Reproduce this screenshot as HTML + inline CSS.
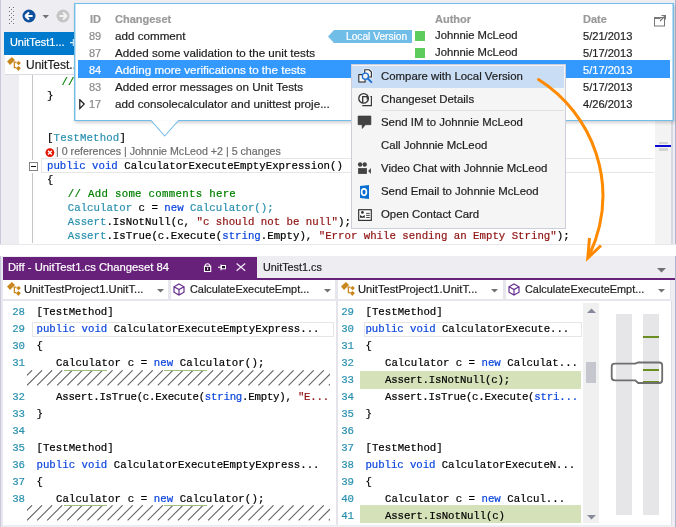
<!DOCTYPE html>
<html><head><meta charset="utf-8">
<style>
*{margin:0;padding:0;box-sizing:border-box}
html,body{width:676px;height:527px;overflow:hidden;background:#eeeef2;font-family:"Liberation Sans",sans-serif;position:relative}
.a{position:absolute}
.ui{-webkit-text-stroke:0.2px currentColor;font-family:"Liberation Sans",sans-serif;font-size:11.65px;white-space:nowrap;color:#1e1e1e}
.mono{-webkit-text-stroke:0.2px currentColor;font-family:"Liberation Mono",monospace;font-size:10.73px;white-space:pre;color:#000;margin-top:2px}
.k{color:#0a45dc}.t{color:#2b91af}.s{color:#8f1212}.c{color:#008000}
.ln{color:#2b91af;text-align:right;width:20px}
.hatch{background:repeating-linear-gradient(135deg,#fff 0,#fff 5px,#7a7a7a 5px,#7a7a7a 6.2px,#fff 6.2px,#fff 7.07px)}
</style></head><body>
<div id="root" style="position:absolute;left:0;top:0;width:676px;height:527px;will-change:transform">

<!-- ============ TOP SECTION ============ -->
<!-- left stripe -->
<div class="a" style="left:0;top:0;width:1px;height:246px;background:#c8cadc"></div>
<!-- toolbar grip -->
<svg class="a" style="left:8px;top:6px" width="8" height="20" viewBox="0 0 8 20"><g fill="#fbfbfc"><rect x="2" y="2" width="1" height="1"/><rect x="6" y="2" width="1" height="1"/><rect x="2" y="6" width="1" height="1"/><rect x="6" y="6" width="1" height="1"/><rect x="2" y="10" width="1" height="1"/><rect x="6" y="10" width="1" height="1"/><rect x="2" y="14" width="1" height="1"/><rect x="6" y="14" width="1" height="1"/><rect x="2" y="18" width="1" height="1"/><rect x="6" y="18" width="1" height="1"/><rect x="4" y="4" width="1" height="1"/><rect x="4" y="8" width="1" height="1"/><rect x="4" y="12" width="1" height="1"/><rect x="4" y="16" width="1" height="1"/></g><g fill="#6e6e72"><rect x="1" y="1" width="1" height="1"/><rect x="5" y="1" width="1" height="1"/><rect x="1" y="5" width="1" height="1"/><rect x="5" y="5" width="1" height="1"/><rect x="1" y="9" width="1" height="1"/><rect x="5" y="9" width="1" height="1"/><rect x="1" y="13" width="1" height="1"/><rect x="5" y="13" width="1" height="1"/><rect x="1" y="17" width="1" height="1"/><rect x="5" y="17" width="1" height="1"/><rect x="3" y="3" width="1" height="1"/><rect x="3" y="7" width="1" height="1"/><rect x="3" y="11" width="1" height="1"/><rect x="3" y="15" width="1" height="1"/></g></svg>
<!-- back button -->
<svg class="a" style="left:22px;top:9px" width="14" height="14" viewBox="0 0 14 14"><circle cx="7" cy="7" r="6.5" fill="#0f509e"/><path d="M3.2 7 L7 3.4 M3.2 7 L7 10.6 M3.4 7 H10.6" stroke="#fff" stroke-width="2" fill="none"/></svg>
<svg class="a" style="left:42px;top:15px" width="8" height="4" viewBox="0 0 8 4"><path d="M0.5 0 H7 L3.75 3.5Z" fill="#717171"/></svg>
<svg class="a" style="left:56px;top:9px" width="14" height="14" viewBox="0 0 14 14"><circle cx="7" cy="7" r="6.5" fill="#c4c4c4"/><path d="M10.8 7 L7 3.4 M10.8 7 L7 10.6 M10.6 7 H3.4" stroke="#f2f2f2" stroke-width="2" fill="none"/></svg>

<!-- blue tab -->
<div class="a" style="left:4px;top:32px;width:80px;height:23px;background:#007acc"></div>
<div class="a ui" style="left:10px;top:36px;font-size:10.9px;color:#fff">UnitTest1...</div>
<svg class="a" style="left:69px;top:38px" width="6" height="9" viewBox="0 0 6 9"><path d="M1 4.6 H4.3 M4.3 1 V8" stroke="#e8f2fa" stroke-width="1.1" fill="none"/></svg>
<!-- nav bar -->
<div class="a" style="left:5px;top:55px;width:80px;height:20px;background:#fff;border-bottom:1px solid #dadae2"></div>
<svg class="a" style="left:4px;top:54px" width="20" height="20" viewBox="0 0 20 20"><g fill="#c9861c"><path d="M3 7.5 L7.9 3 L11 6.1 L6 11Z"/><path d="M12.3 9 L14.6 6.9 L16.9 9 L14.6 11.2Z"/><path d="M12.1 14.2 L14.4 11.9 L16.9 14 L14.3 16.9Z"/></g><path d="M9.5 8.1 H12.5 M10.4 8 V13.6 H12.5" stroke="#c9861c" stroke-width="1.3" fill="none"/></svg>
<div class="a ui" style="left:26px;top:57.5px;font-size:12px">UnitTest...</div>

<!-- editor area -->
<div class="a" style="left:1px;top:75px;width:18px;height:170px;background:#eeeef2"></div>
<div class="a" style="left:19px;top:75px;width:636px;height:169px;background:#fff"></div>
<div class="a" style="left:32px;top:75px;width:1px;height:168px;background:#c6c6c6"></div>
<!-- collapse box -->
<div class="a" style="left:30px;top:160px;width:6px;height:13px;background:#fff"></div>
<div class="a" style="left:29px;top:162px;width:9px;height:9px;border:1px solid #858585;background:#fff"></div>
<div class="a" style="left:31px;top:166px;width:5px;height:1.2px;background:#111"></div>
<!-- current line box -->
<div class="a" style="left:41px;top:158px;width:613px;height:15px;border:1px solid #e6e6e6;border-right:none"></div>
<!-- scrollbar -->
<div class="a" style="left:655px;top:75px;width:16px;height:170px;background:#f3f3f3"></div>
<div class="a" style="left:671px;top:75px;width:1.5px;height:170px;background:#d8d8e4"></div>
<div class="a" style="left:672.5px;top:0px;width:2.5px;height:245px;background:#eeeef2"></div>
<div class="a" style="left:675px;top:0px;width:1px;height:245px;background:#b0b4cc"></div>
<div class="a" style="left:658.5px;top:142px;width:9.5px;height:2.2px;background:#d2d2d2"></div>
<div class="a" style="left:658.5px;top:148px;width:9.5px;height:2.7px;background:#d2d2d2"></div>
<div class="a" style="left:655px;top:145px;width:16px;height:2.2px;background:#0a0ad0"></div>
<!-- bottom lines -->
<div class="a" style="left:0;top:244px;width:676px;height:1px;background:#e8e8ec"></div>
<div class="a" style="left:0;top:245px;width:676px;height:12px;background:#fff"></div>

<!-- code lines top -->
<div class="a mono c" style="left:61.5px;top:74px">//</div>
<div class="a mono" style="left:47px;top:88px">}</div>
<div class="a mono" style="left:47px;top:130px;letter-spacing:0.15px">[<span class="t">TestMethod</span>]</div>
<svg class="a" style="left:45px;top:148px" width="10" height="10" viewBox="0 0 10 10"><circle cx="4.9" cy="4.6" r="4.4" fill="#e51400"/><path d="M3 2.7 L6.8 6.5 M6.8 2.7 L3 6.5" stroke="#fff" stroke-width="1.4"/></svg>
<div class="a ui" style="left:56px;top:145px;font-size:10.67px;color:#6e6e6e">| 0 references | Johnnie McLeod +2 | 5 changes</div>
<div class="a mono" style="left:47px;top:158px"><span class="k">public</span> <span class="k">void</span> CalculatorExecuteEmptyExpression()</div>
<div class="a mono" style="left:47px;top:172px">{</div>
<div class="a mono c" style="left:67.8px;top:186px;letter-spacing:0.3px">// Add some comments here</div>
<div class="a mono" style="left:67.8px;top:200px"><span class="t">Calculator</span> c = <span class="k">new</span> <span class="t">Calculator();</span></div>
<div class="a mono" style="left:67.8px;top:214px"><span class="t">Assert</span>.IsNotNull(c, <span class="s">"c should not be null"</span>);</div>
<div class="a mono" style="left:67.8px;top:228px"><span class="t">Assert</span>.IsTrue(c.Execute(<span class="k">string</span>.Empty), <span class="s">"Error while sending an Empty String"</span>);</div>

<!-- ============ POPUP ============ -->
<div class="a" style="left:74px;top:3px;width:600px;height:118px;background:#fff;border:1px solid #74bde9;box-shadow:inset 1px 0 0 #c0e2f6,inset -1px 0 0 #b8def4,1px 2px 3px rgba(0,0,0,0.18)"></div>
<svg class="a" style="left:148px;top:119px" width="34" height="19" viewBox="0 0 34 19"><path d="M0 1.5 H3 L16.7 17 L30.5 1.5 H33" fill="#fff" stroke="#74bde9" stroke-width="1.1"/><rect x="3.8" y="0" width="26" height="1.9" fill="#fff"/></svg>
<div class="a ui" style="left:90px;top:13px;color:#9a9a9a;font-weight:bold;font-size:11px">ID</div>
<div class="a ui" style="left:115px;top:13px;color:#9a9a9a;font-weight:bold;font-size:11px">Changeset</div>
<div class="a ui" style="left:435px;top:13px;color:#9a9a9a;font-weight:bold;font-size:11px">Author</div>
<div class="a ui" style="left:583px;top:13px;color:#9a9a9a;font-weight:bold;font-size:11px">Date</div>
<svg class="a" style="left:653px;top:14px" width="13" height="13" viewBox="0 0 13 13"><rect x="1.5" y="3.5" width="10" height="8.5" fill="none" stroke="#777" stroke-width="1"/><rect x="1.5" y="3" width="6" height="2" fill="#777"/><path d="M7 7 L12 2 M8.5 1.5 H12.5 V5.5" stroke="#777" stroke-width="1.2" fill="none"/></svg>

<!-- selected row -->
<div class="a" style="left:78px;top:60px;width:592px;height:18px;background:#3399ff"></div>

<!-- rows -->
<div class="a ui" style="left:89px;top:30px;color:#8a8a8a;font-size:11px">89</div>
<div class="a ui" style="left:115px;top:29px">add comment</div>
<div class="a ui" style="left:89px;top:47px;color:#8a8a8a;font-size:11px">87</div>
<div class="a ui" style="left:115px;top:46px">Added some validation to the unit tests</div>
<div class="a ui" style="left:89px;top:64px;color:#fff;font-size:11px">84</div>
<div class="a ui" style="left:115px;top:63px;color:#fff">Adding more verifications to the tests</div>
<div class="a ui" style="left:89px;top:81px;color:#8a8a8a;font-size:11px">83</div>
<div class="a ui" style="left:115px;top:80px">Added error messages on Unit Tests</div>
<svg class="a" style="left:79px;top:98.5px" width="7" height="11" viewBox="0 0 7 11"><path d="M0.8 0.8 L5.2 5.1 L0.8 9.5Z" fill="none" stroke="#1a1a1a" stroke-width="1.2"/></svg>
<div class="a ui" style="left:89px;top:98px;color:#8a8a8a;font-size:11px">17</div>
<div class="a ui" style="left:115px;top:97px">add consolecalculator and unittest proje...</div>

<!-- local version badge -->
<svg class="a" style="left:328px;top:30px" width="84" height="13" viewBox="0 0 84 13"><path d="M0 6.5 L6 0 H84 V13 H6Z" fill="#70bde8"/></svg>
<div class="a ui" style="left:346px;top:31px;font-size:10.2px;color:#fff">Local Version</div>
<div class="a" style="left:415px;top:31px;width:10px;height:10px;background:#5ccc5c"></div>
<div class="a" style="left:415px;top:48px;width:10px;height:10px;background:#5ccc5c"></div>

<div class="a ui" style="left:435px;top:29px;font-size:11.25px">Johnnie McLeod</div>
<div class="a ui" style="left:435px;top:46px;font-size:11.25px">Johnnie McLeod</div>
<div class="a ui" style="left:583px;top:30px;font-size:11.1px">5/21/2013</div>
<div class="a ui" style="left:583px;top:47px;font-size:11.1px">5/17/2013</div>
<div class="a ui" style="left:583px;top:64px;color:#fff;font-size:11.1px">5/17/2013</div>
<div class="a ui" style="left:583px;top:81px;font-size:11.1px">5/17/2013</div>
<div class="a ui" style="left:583px;top:98px;font-size:11.1px">4/26/2013</div>

<!-- ============ CONTEXT MENU ============ -->
<div class="a" style="left:351px;top:64px;width:215px;height:165px;background:#f5f5f5;border:1px solid #cccedb"></div>
<div class="a" style="left:352px;top:66px;width:212px;height:22px;background:#c9def5"></div>
<div class="a" style="left:382px;top:110px;width:182px;height:1px;background:#e0e0e0"></div>
<div class="a ui" style="left:381px;top:70px;font-size:11.4px">Compare with Local Version</div>
<div class="a ui" style="left:381px;top:93px;font-size:11.4px">Changeset Details</div>
<div class="a ui" style="left:381px;top:116px;font-size:11.4px">Send IM to Johnnie McLeod</div>
<div class="a ui" style="left:381px;top:139px;font-size:11.4px">Call Johnnie McLeod</div>
<div class="a ui" style="left:381px;top:162px;font-size:11.4px">Video Chat with Johnnie McLeod</div>
<div class="a ui" style="left:381px;top:185px;font-size:11.4px">Send Email to Johnnie McLeod</div>
<div class="a ui" style="left:381px;top:208px;font-size:11.4px">Open Contact Card</div>

<!-- menu icons -->
<svg class="a" style="left:355px;top:66px" width="22" height="22" viewBox="0 0 22 22"><path d="M9.7 3.8 H14.2 L16.4 6 V11 H9.7Z" fill="#fbfbfb" stroke="#fff" stroke-width="2.6" opacity=".7"/><path d="M9.7 3.8 H14.2 L16.4 6 V11 H9.7Z" fill="#f8f8f8" stroke="#2d2d2d" stroke-width="1.1"/><rect x="3.8" y="8.6" width="6.3" height="7.4" fill="#f8f8f8" stroke="#2d2d2d" stroke-width="1.1"/><circle cx="10.4" cy="10.2" r="3.1" fill="#edf1f6" stroke="#1f6fd0" stroke-width="1.3"/><path d="M12.6 12.4 L16.4 16.2" stroke="#1f6fd0" stroke-width="1.9" stroke-linecap="round"/></svg>
<svg class="a" style="left:355px;top:89px" width="22" height="22" viewBox="0 0 22 22"><circle cx="8.6" cy="9.4" r="4.8" fill="none" stroke="#333" stroke-width="1.3"/><path d="M7.7 14 V7.7 H12.3 V10.5" fill="none" stroke="#333" stroke-width="1.3"/><path d="M15.4 7.5 H16.4 V16.6 H7.3" fill="none" stroke="#333" stroke-width="1.1"/></svg>
<svg class="a" style="left:355px;top:112px" width="22" height="22" viewBox="0 0 22 22"><path d="M3.1 4 H15.9 V12.7 H10.4 L7.3 16.5 L7.1 12.7 H3.1Z" fill="#424242" stroke="#333" stroke-width="0.6"/></svg>
<svg class="a" style="left:355px;top:157px" width="22" height="22" viewBox="0 0 22 22"><circle cx="5.1" cy="7.5" r="2.2" fill="#424242"/><circle cx="9.7" cy="7.5" r="2.2" fill="#424242"/><rect x="3.1" y="11.1" width="8.8" height="5.8" fill="#424242"/><path d="M13.2 14 L15.9 11.1 V16.9Z" fill="#424242"/></svg>
<svg class="a" style="left:355px;top:180px" width="22" height="22" viewBox="0 0 22 22"><path d="M5 6.1 L14 5 V19 L5 18Z" fill="#0a6fd1"/><ellipse cx="9" cy="12.1" rx="2.4" ry="3.2" fill="none" stroke="#fff" stroke-width="1.7"/></svg>
<svg class="a" style="left:355px;top:203px" width="22" height="22" viewBox="0 0 22 22"><rect x="3.7" y="6.7" width="12.6" height="10.7" fill="#fff" stroke="#333" stroke-width="1.2"/><circle cx="7.4" cy="9.4" r="1.4" fill="#333"/><path d="M5 12 L7.4 13.5 L9.8 12 V14.8 H5Z" fill="#333"/><path d="M11.1 10.4 H14.8 M11.1 12.4 H14.8 M11.1 14.5 H14.8" stroke="#333" stroke-width="0.9"/></svg>

<!-- ============ DIFF SECTION ============ -->
<div class="a" style="left:0;top:256px;width:3px;height:271px;background:#e8e8ee"></div>
<div class="a" style="left:0;top:256px;width:1px;height:271px;background:#c8cadc"></div>
<!-- tab bar -->
<div class="a" style="left:3px;top:256px;width:673px;height:22px;background:#eeeef2"></div>
<div class="a" style="left:3px;top:257px;width:254px;height:23px;background:#68217a"></div>
<div class="a" style="left:3px;top:278px;width:672px;height:2px;background:#68217a"></div>
<div class="a ui" style="left:8px;top:261px;font-size:11.24px;color:#fff">Diff - UnitTest1.cs Changeset 84</div>
<!-- lock/pin/x -->
<svg class="a" style="left:198px;top:258px" width="52" height="20" viewBox="0 0 52 20"><path d="M7.2 8 V7 Q9.5 4.4 11.8 7 V8" fill="none" stroke="#fff" stroke-width="1.1"/><rect x="6.5" y="8.3" width="6.2" height="5.2" fill="#2a0b35" stroke="#fff" stroke-width="1.1"/><rect x="9.1" y="9.6" width="1.1" height="2.3" fill="#fff"/><path d="M20 9.2 H23 M23 6.5 V12.3" stroke="#fff" stroke-width="1.1"/><rect x="23.5" y="7.5" width="4" height="3.3" fill="#2a0b35" stroke="#fff" stroke-width="1"/><path d="M38.6 5.4 L47.2 12.8 M47.2 5.4 L38.6 12.8" stroke="#eee3f2" stroke-width="1.3"/></svg>
<div class="a ui" style="left:263px;top:261px;font-size:10.8px">UnitTest1.cs</div>
<svg class="a" style="left:657px;top:268px" width="9" height="5" viewBox="0 0 9 5"><path d="M0 0 H9 L4.5 4.5Z" fill="#717171"/></svg>

<!-- nav bars -->
<div class="a" style="left:3px;top:280px;width:672px;height:21px;background:#e6e6ec"></div>
<div class="a" style="left:3px;top:280px;width:165px;height:19px;background:#fff"></div>
<div class="a" style="left:170.5px;top:280px;width:164px;height:19px;background:#fff"></div>
<div class="a" style="left:337.5px;top:280px;width:165.5px;height:19px;background:#fff"></div>
<div class="a" style="left:505.5px;top:280px;width:164.8px;height:19px;background:#fff"></div>
<div class="a" style="left:671px;top:280px;width:4px;height:247px;background:#eeeef2"></div>
<div class="a" style="left:671px;top:301px;width:1px;height:224px;background:#dcdce6"></div>
<div class="a" style="left:675px;top:256px;width:1px;height:271px;background:#b0b4cc"></div>
<svg class="a" style="left:4px;top:279px" width="20" height="20" viewBox="0 0 20 20"><g fill="#c9861c"><path d="M3 7.5 L7.9 3 L11 6.1 L6 11Z"/><path d="M12.3 9 L14.6 6.9 L16.9 9 L14.6 11.2Z"/><path d="M12.1 14.2 L14.4 11.9 L16.9 14 L14.3 16.9Z"/></g><path d="M9.5 8.1 H12.5 M10.4 8 V13.6 H12.5" stroke="#c9861c" stroke-width="1.3" fill="none"/></svg>
<div class="a ui" style="left:24px;top:283px;font-size:11.2px">UnitTestProject1.UnitT...</div>
<svg class="a" style="left:157px;top:289px" width="7" height="4" viewBox="0 0 7 4"><path d="M0 0 H7 L3.5 3.5Z" fill="#717171"/></svg>
<svg class="a" style="left:173px;top:283px" width="12" height="13" viewBox="0 0 12 13"><path d="M6 1 L11 3.8 V9.2 L6 12 L1 9.2 V3.8Z M1 3.8 L6 6.6 L11 3.8 M6 6.6 V12" fill="none" stroke="#652d90" stroke-width="1.2"/></svg>
<div class="a ui" style="left:190px;top:283px;font-size:10.9px">CalculateExecuteEmpt...</div>
<svg class="a" style="left:324px;top:289px" width="7" height="4" viewBox="0 0 7 4"><path d="M0 0 H7 L3.5 3.5Z" fill="#717171"/></svg>
<svg class="a" style="left:338px;top:279px" width="20" height="20" viewBox="0 0 20 20"><g fill="#c9861c"><path d="M3 7.5 L7.9 3 L11 6.1 L6 11Z"/><path d="M12.3 9 L14.6 6.9 L16.9 9 L14.6 11.2Z"/><path d="M12.1 14.2 L14.4 11.9 L16.9 14 L14.3 16.9Z"/></g><path d="M9.5 8.1 H12.5 M10.4 8 V13.6 H12.5" stroke="#c9861c" stroke-width="1.3" fill="none"/></svg>
<div class="a ui" style="left:358px;top:283px;font-size:11.2px">UnitTestProject1.UnitT...</div>
<svg class="a" style="left:491px;top:289px" width="7" height="4" viewBox="0 0 7 4"><path d="M0 0 H7 L3.5 3.5Z" fill="#717171"/></svg>
<svg class="a" style="left:508px;top:283px" width="12" height="13" viewBox="0 0 12 13"><path d="M6 1 L11 3.8 V9.2 L6 12 L1 9.2 V3.8Z M1 3.8 L6 6.6 L11 3.8 M6 6.6 V12" fill="none" stroke="#652d90" stroke-width="1.2"/></svg>
<div class="a ui" style="left:525px;top:283px;font-size:10.9px">CalculateExecuteEmpt...</div>
<svg class="a" style="left:658px;top:289px" width="7" height="4" viewBox="0 0 7 4"><path d="M0 0 H7 L3.5 3.5Z" fill="#717171"/></svg>

<!-- code panes -->
<div class="a" style="left:3px;top:301px;width:333px;height:224px;background:#fff"></div>
<div class="a" style="left:336px;top:301px;width:1.5px;height:224px;background:#e4e4ea"></div>
<div class="a" style="left:337.5px;top:301px;width:333.5px;height:224px;background:#fff"></div>
<div class="a" style="left:3px;top:525px;width:671px;height:2px;background:#eeeef2"></div>

<!-- left pane -->
<div class="a" style="left:32px;top:322px;width:302px;height:15px;border:1px solid #e6e6e6"></div>
<svg class="a" style="left:27px;top:370px" width="303" height="16" viewBox="0 0 303 16"><path d="M-20.12 15.4 L-5.02 0.3 M-10.06 15.4 L5.04 0.3 M0.00 15.4 L15.10 0.3 M10.06 15.4 L25.16 0.3 M20.12 15.4 L35.22 0.3 M30.18 15.4 L45.28 0.3 M40.24 15.4 L55.34 0.3 M50.30 15.4 L65.40 0.3 M60.36 15.4 L75.46 0.3 M70.42 15.4 L85.52 0.3 M80.48 15.4 L95.58 0.3 M90.54 15.4 L105.64 0.3 M100.60 15.4 L115.70 0.3 M110.66 15.4 L125.76 0.3 M120.72 15.4 L135.82 0.3 M130.78 15.4 L145.88 0.3 M140.84 15.4 L155.94 0.3 M150.90 15.4 L166.00 0.3 M160.96 15.4 L176.06 0.3 M171.02 15.4 L186.12 0.3 M181.08 15.4 L196.18 0.3 M191.14 15.4 L206.24 0.3 M201.20 15.4 L216.30 0.3 M211.26 15.4 L226.36 0.3 M221.32 15.4 L236.42 0.3 M231.38 15.4 L246.48 0.3 M241.44 15.4 L256.54 0.3 M251.50 15.4 L266.60 0.3 M261.56 15.4 L276.66 0.3 M271.62 15.4 L286.72 0.3 M281.68 15.4 L296.78 0.3 M291.74 15.4 L306.84 0.3 M301.80 15.4 L316.90 0.3" stroke="#666" stroke-width="1.1" fill="none"/></svg>
<svg class="a" style="left:27px;top:505px" width="303" height="16" viewBox="0 0 303 16"><path d="M-20.12 15.4 L-5.02 0.3 M-10.06 15.4 L5.04 0.3 M0.00 15.4 L15.10 0.3 M10.06 15.4 L25.16 0.3 M20.12 15.4 L35.22 0.3 M30.18 15.4 L45.28 0.3 M40.24 15.4 L55.34 0.3 M50.30 15.4 L65.40 0.3 M60.36 15.4 L75.46 0.3 M70.42 15.4 L85.52 0.3 M80.48 15.4 L95.58 0.3 M90.54 15.4 L105.64 0.3 M100.60 15.4 L115.70 0.3 M110.66 15.4 L125.76 0.3 M120.72 15.4 L135.82 0.3 M130.78 15.4 L145.88 0.3 M140.84 15.4 L155.94 0.3 M150.90 15.4 L166.00 0.3 M160.96 15.4 L176.06 0.3 M171.02 15.4 L186.12 0.3 M181.08 15.4 L196.18 0.3 M191.14 15.4 L206.24 0.3 M201.20 15.4 L216.30 0.3 M211.26 15.4 L226.36 0.3 M221.32 15.4 L236.42 0.3 M231.38 15.4 L246.48 0.3 M241.44 15.4 L256.54 0.3 M251.50 15.4 L266.60 0.3 M261.56 15.4 L276.66 0.3 M271.62 15.4 L286.72 0.3 M281.68 15.4 L296.78 0.3 M291.74 15.4 L306.84 0.3 M301.80 15.4 L316.90 0.3" stroke="#666" stroke-width="1.1" fill="none"/></svg>
<div class="a mono ln" style="left:5px;top:304px">28</div>
<div class="a mono ln" style="left:5px;top:321px">29</div>
<div class="a mono ln" style="left:5px;top:338px">30</div>
<div class="a mono ln" style="left:5px;top:355px">31</div>
<div class="a mono ln" style="left:5px;top:389px">32</div>
<div class="a mono ln" style="left:5px;top:406px">33</div>
<div class="a mono ln" style="left:5px;top:423px">34</div>
<div class="a mono ln" style="left:5px;top:440px">35</div>
<div class="a mono ln" style="left:5px;top:457px">36</div>
<div class="a mono ln" style="left:5px;top:474px">37</div>
<div class="a mono ln" style="left:5px;top:491px">38</div>
<div class="a mono" style="left:36.5px;top:304px">[TestMethod]</div>
<div class="a mono" style="left:36.5px;top:321px"><span class="k">public</span> <span class="k">void</span> CalculatorExecuteEmptyExpress...</div>
<div class="a mono" style="left:36.5px;top:338px">{</div>
<div class="a mono" style="left:56px;top:355px;letter-spacing:0.08px">Calculator c = <span class="k">new</span> Calculator();</div>
<div class="a mono" style="left:56px;top:389px;letter-spacing:-0.23px">Assert.IsTrue(c.Execute(<span class="k">string</span>.Empty), <span class="s">"E...</span></div>
<div class="a mono" style="left:36.5px;top:406px">}</div>
<div class="a mono" style="left:36.5px;top:440px">[TestMethod]</div>
<div class="a mono" style="left:36.5px;top:457px"><span class="k">public</span> <span class="k">void</span> CalculatorExecuteEmptyExpress...</div>
<div class="a mono" style="left:36.5px;top:474px">{</div>
<div class="a mono" style="left:56px;top:491px;letter-spacing:0.08px">Calculator c = <span class="k">new</span> Calculator();</div>
<div class="a" style="left:64px;top:370px;width:43px;height:1px;background:#9cc07a"></div>
<div class="a" style="left:164px;top:370px;width:43px;height:1px;background:#9cc07a"></div>
<div class="a" style="left:64px;top:505px;width:43px;height:1px;background:#9cc07a"></div>
<div class="a" style="left:164px;top:505px;width:43px;height:1px;background:#9cc07a"></div>

<!-- right pane -->
<div class="a" style="left:364px;top:322px;width:218px;height:15px;border:1px solid #e6e6e6"></div>
<div class="a" style="left:360px;top:371px;width:221px;height:18px;background:#d4e1b9"></div>
<div class="a" style="left:360px;top:505px;width:221px;height:18px;background:#d4e1b9"></div>
<div class="a mono ln" style="left:334px;top:304px">29</div>
<div class="a mono ln" style="left:334px;top:321px">30</div>
<div class="a mono ln" style="left:334px;top:338px">31</div>
<div class="a mono ln" style="left:334px;top:355px">32</div>
<div class="a mono ln" style="left:334px;top:372px">33</div>
<div class="a mono ln" style="left:334px;top:389px">34</div>
<div class="a mono ln" style="left:334px;top:406px">35</div>
<div class="a mono ln" style="left:334px;top:423px">36</div>
<div class="a mono ln" style="left:334px;top:440px">37</div>
<div class="a mono ln" style="left:334px;top:457px">38</div>
<div class="a mono ln" style="left:334px;top:474px">39</div>
<div class="a mono ln" style="left:334px;top:491px">40</div>
<div class="a mono ln" style="left:334px;top:508px">41</div>
<div class="a mono" style="left:365.5px;top:304px">[TestMethod]</div>
<div class="a mono" style="left:365.5px;top:321px;letter-spacing:-0.07px"><span class="k">public</span> <span class="k">void</span> CalculatorExecute...</div>
<div class="a mono" style="left:365.5px;top:338px">{</div>
<div class="a mono" style="left:385px;top:355px">Calculator c = <span class="k">new</span> Calculat...</div>
<div class="a mono" style="left:385px;top:372px;letter-spacing:-0.18px">Assert.IsNotNull(c);</div>
<div class="a mono" style="left:385px;top:389px;letter-spacing:-0.21px">Assert.IsTrue(c.Execute(<span class="k">stri...</span></div>
<div class="a mono" style="left:365.5px;top:406px">}</div>
<div class="a mono" style="left:365.5px;top:440px">[TestMethod]</div>
<div class="a mono" style="left:365.5px;top:457px;letter-spacing:-0.08px"><span class="k">public</span> <span class="k">void</span> CalculatorExecuteN...</div>
<div class="a mono" style="left:365.5px;top:474px">{</div>
<div class="a mono" style="left:385px;top:491px">Calculator c = <span class="k">new</span> Calcul...</div>
<div class="a mono" style="left:385px;top:508px;letter-spacing:-0.12px">Assert.IsNotNull(c)</div>

<!-- scrollbar right pane -->
<div class="a" style="left:583px;top:303px;width:16px;height:220px;background:#f0f0f0"></div>
<svg class="a" style="left:587px;top:308px" width="9" height="5" viewBox="0 0 9 5"><path d="M0 5 H9 L4.5 0.5Z" fill="#868999"/></svg>
<div class="a" style="left:586px;top:362px;width:10px;height:21px;background:#c6c6ce"></div>
<svg class="a" style="left:587px;top:515px" width="9" height="5" viewBox="0 0 9 5"><path d="M0 0 H9 L4.5 4.5Z" fill="#868999"/></svg>
<!-- overview -->
<div class="a" style="left:616px;top:314px;width:16px;height:201px;background:#e6e6e8"></div>
<div class="a" style="left:643px;top:314px;width:16px;height:201px;background:#e6e6e8"></div>
<div class="a" style="left:643px;top:336px;width:16px;height:2px;background:#6b8e23"></div>
<div class="a" style="left:643px;top:369px;width:16px;height:2px;background:#6b8e23"></div>
<div class="a" style="left:643px;top:381px;width:16px;height:2px;background:#6b8e23"></div>
<svg class="a" style="left:609px;top:360px" width="56" height="26" viewBox="0 0 56 26"><path d="M5.7 3.7 H26.2 L29.2 2.5 H50.2 Q53.2 2.5 53.2 5.5 V20 Q53.2 23 50.2 23 H29.2 L26.2 20.3 H5.7 Q2.7 20.3 2.7 17.3 V6.7 Q2.7 3.7 5.7 3.7Z" fill="none" stroke="#6e6e6e" stroke-width="1.8"/></svg>

<!-- ============ ORANGE ARROW ============ -->
<svg class="a" style="left:0;top:0" width="676" height="527" viewBox="0 0 676 527"><path d="M538.5 79.5 C592 113 622 185 589 256" fill="none" stroke="#ff8a00" stroke-width="3" stroke-linecap="round"/><path d="M589.5 238 L587.8 258 L601 245.5" fill="none" stroke="#ff8a00" stroke-width="3" stroke-linejoin="miter"/></svg>

</div>
</body></html>
